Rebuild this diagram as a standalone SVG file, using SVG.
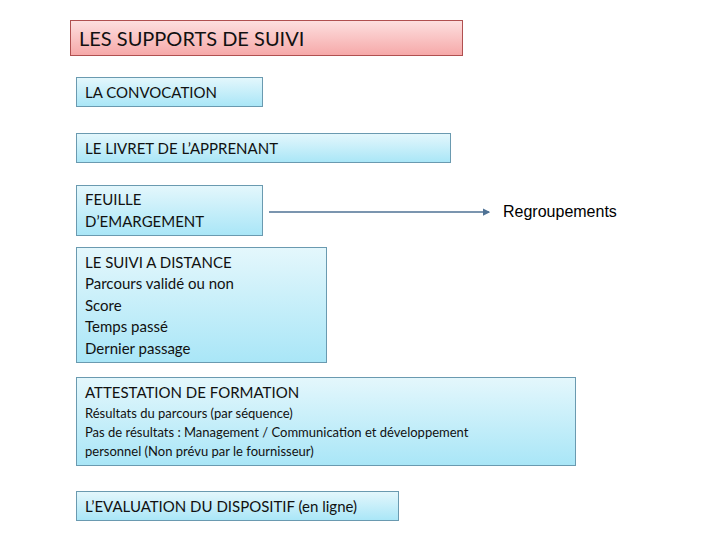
<svg xmlns="http://www.w3.org/2000/svg" width="720" height="540" viewBox="0 0 720 540">
<style>
.b{fill:url(#bl);stroke:#6a9ab0;stroke-width:1}
.t{font-family:Lato,"Open Sans",sans-serif;font-size:15px;fill:#111}
.s{font-family:Lato,"Open Sans",sans-serif;font-size:13px;fill:#111}
</style>
<defs>
<linearGradient id="bl" x1="0" y1="0" x2="0" y2="1"><stop offset="0" stop-color="#e4f7fc"/><stop offset="1" stop-color="#a9e6f7"/></linearGradient>
<linearGradient id="rd" x1="0" y1="0" x2="0" y2="1"><stop offset="0" stop-color="#fde0e0"/><stop offset="1" stop-color="#f6a8a8"/></linearGradient>
<marker id="ar" viewBox="0 0 6 6" refX="5" refY="3" markerWidth="5" markerHeight="5" orient="auto"><path d="M0,0L6,3L0,6z" fill="#4f7295"/></marker>
</defs>
<rect width="720" height="540" fill="#fff"/>
<g id="title"><rect x="70.5" y="20.5" width="392" height="35" fill="url(#rd)" stroke="#b05050"/><text x="79" y="46" font-family="Lato,'Open Sans',sans-serif" font-size="20" fill="#111">LES SUPPORTS DE SUIVI</text></g>
<g id="convocation"><rect class="b" x="76.5" y="77.5" width="186" height="29"/><text class="t" x="85" y="98">LA CONVOCATION</text></g>
<g id="livret"><rect class="b" x="76.5" y="133.5" width="374" height="29"/><text class="t" x="85" y="154">LE LIVRET DE L’APPRENANT</text></g>
<g id="feuille"><rect class="b" x="76.5" y="185.5" width="186" height="50"/><text class="t" x="85" y="205">FEUILLE</text><text class="t" x="85" y="227">D’EMARGEMENT</text></g>
<g id="suivi"><rect class="b" x="76.5" y="247.5" width="250" height="115"/><text class="t" x="85" y="268">LE SUIVI A DISTANCE</text><text class="t" x="85" y="289">Parcours validé ou non</text><text class="t" x="85" y="311">Score</text><text class="t" x="85" y="332">Temps passé</text><text class="t" x="85" y="354">Dernier passage</text></g>
<g id="attestation"><rect class="b" x="76.5" y="377.5" width="499" height="88"/><text class="t" x="85" y="398">ATTESTATION DE FORMATION</text><text class="s" x="85" y="418">Résultats du parcours (par séquence)</text><text class="s" x="85" y="437">Pas de résultats  : Management / Communication et développement</text><text class="s" x="85" y="456">personnel (Non prévu par le fournisseur)</text></g>
<g id="evaluation"><rect class="b" x="76.5" y="491.5" width="322" height="29"/><text class="t" x="85" y="512">L’EVALUATION DU DISPOSITIF (en ligne)</text></g>
<g id="regroupements"><text x="503" y="217" font-family="'Liberation Sans',Arial,sans-serif" font-size="16" fill="#000">Regroupements</text></g>
<g id="connectors"><line x1="269" y1="212" x2="489" y2="212" stroke="#4f7295" stroke-width="1.5" marker-end="url(#ar)"/></g>
</svg>
